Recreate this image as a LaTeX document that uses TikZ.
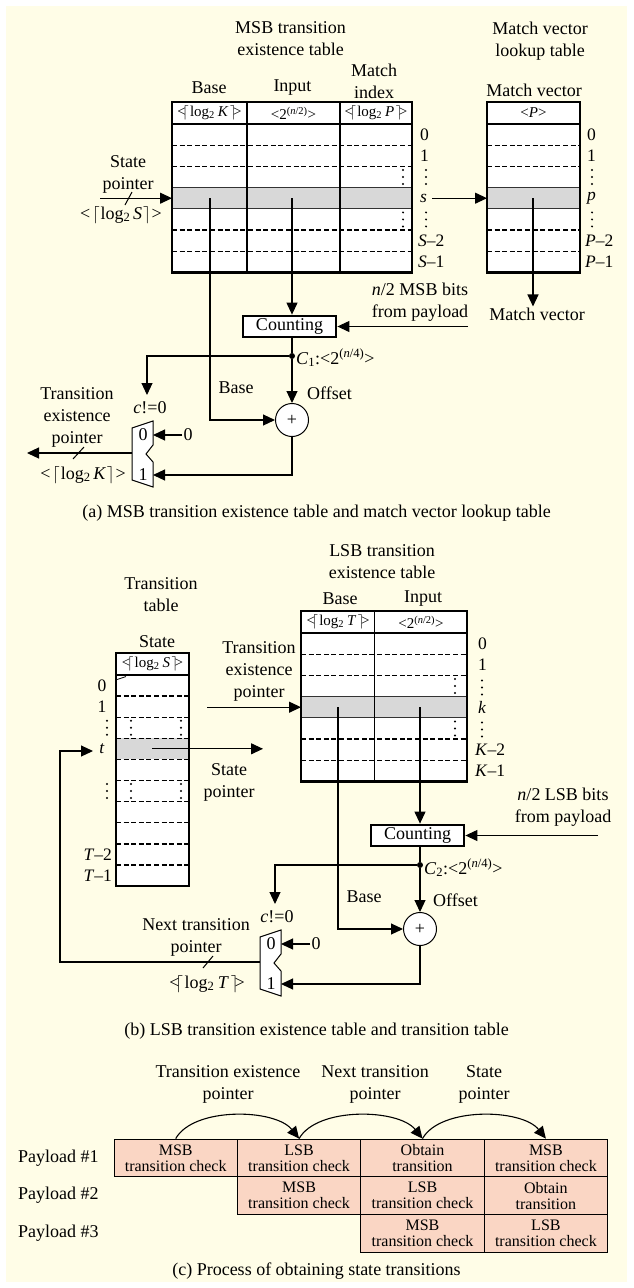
\documentclass[tikz,border=0pt]{standalone}
\usepackage{fontspec}
\setmainfont{Liberation Serif}
\usetikzlibrary{arrows.meta}
\definecolor{bgyellow}{RGB}{255,253,231}
\definecolor{cellgray}{RGB}{216,216,216}
\definecolor{boxpink}{RGB}{250,214,196}
\newcommand\hlog[1]{<\kern-0.22em$\lceil$\kern0.08em log\textsubscript{2}\kern0.2em\textit{#1}\kern0.1em$\rceil$\kern-0.22em>}
\newcommand\slog[1]{<\kern0.1em$\lceil$\kern0.05em log\textsubscript{2}\kern0.15em\textit{#1}\kern0.05em$\rceil$\kern0.05em>}
\newcommand\twopow[1]{<2\textsuperscript{(\textit{n}/#1)}>}
\begin{document}
\begin{tikzpicture}[x=1pt,y=-1pt,
  every node/.style={font=\fontsize{18}{22}\selectfont, inner sep=1pt},
  ml/.style={align=center},
  hdr/.style={font=\fontsize{15}{18}\selectfont, inner sep=0pt},
  rlab/.style={font=\fontsize{17.5}{21}\selectfont, inner sep=0pt},
  arr/.style={line width=1.1pt, -{Triangle[length=12pt,width=11pt]}},
  conn/.style={line width=1.1pt},
  outerframe/.style={line width=2.6pt},
  colline/.style={line width=1.5pt},
  rowdash/.style={line width=1.4pt, dash pattern=on 5pt off 2.6pt},
  rowsolid/.style={line width=1pt, black!80},
  headline/.style={line width=2pt},
  countbox/.style={draw, line width=2.8pt, fill=white, minimum width=93pt, minimum height=21pt, inner sep=0pt},
  plusnode/.style={draw, circle, line width=1pt, fill=white, minimum size=33pt, inner sep=0pt},
  dotnode/.style={circle, fill=black, minimum size=6pt, inner sep=0pt},
  pbox/.style={draw, line width=0.9pt, fill=boxpink, minimum width=123.4pt, minimum height=37.7pt, inner sep=0pt, align=center, font=\fontsize{16}{16}\selectfont},
  tdots/.pic={\foreach \k in {-7,0,7} \fill (0,\k) circle[radius=1.1pt];},
  muxshape/.pic={\draw[line width=1pt, fill=white] (0,7) -- (21,0) -- (21,24) -- (14,33) -- (21,41) -- (21,66) -- (0,59) -- cycle;},
  slash/.style={line width=1pt}
]
\useasboundingbox (0,0) rectangle (633,1288);
\fill[white] (0,0) rectangle (633,1288);
\fill[bgyellow] (6,6) rectangle (627,1282);

%%%%%%%%%%%%%%%% (a) %%%%%%%%%%%%%%%%
\node[ml] (tMSB) at (290.5,39) {MSB transition\\existence table};
\node[ml] (tMV) at (540,41) {Match vector\\lookup table};
\node (hBaseA) at (209,88) {Base};
\node (hInA) at (292.5,88) {Input};
\node[ml] (hMI) at (374,81) {Match\\index};
\node (hMV) at (534,90) {Match vector};

% MSB table
\fill[white] (172,102) rectangle (412,272.4);
\fill[cellgray] (172,187.6) rectangle (412,208.8);
\foreach \yy in {145.2,166.4,230,251.2} \draw[rowdash] (172,\yy) -- (412,\yy);
\foreach \yy in {187.6,208.8} \draw[rowsolid] (172,\yy) -- (412,\yy);
\foreach \xx in {247,340} \draw[colline] (\xx,102) -- (\xx,272.4);
\draw[headline] (172,124) -- (412,124);
\draw[outerframe] (172,102) rectangle (412,272.4);
\node[hdr] (cA1) at (209.5,113) {\hlog{K}};
\node[hdr] (cA2) at (293.5,113) {\twopow{2}};
\node[hdr] (cA3) at (376,113) {\hlog{P}};
\pic at (403,177) {tdots};
\pic at (403,219.4) {tdots};
% row labels
\node[rlab,anchor=west] (rA0) at (420,134.6) {0};
\node[rlab,anchor=west] (rA1) at (420,155.8) {1};
\pic at (426,177) {tdots};
\node[rlab,anchor=west] (rAs) at (420,198.2) {\textit{s}};
\pic at (426,219.4) {tdots};
\node[rlab,anchor=west] (rA2) at (418,240.6) {\textit{S}–2};
\node[rlab,anchor=west] (rA3) at (418,261.8) {\textit{S}–1};

% Match vector table
\fill[white] (487,102) rectangle (580,272.4);
\fill[cellgray] (487,187.6) rectangle (580,208.8);
\foreach \yy in {145.2,166.4,230,251.2} \draw[rowdash] (487,\yy) -- (580,\yy);
\foreach \yy in {187.6,208.8} \draw[rowsolid] (487,\yy) -- (580,\yy);
\draw[headline] (487,124) -- (580,124);
\draw[outerframe] (487,102) rectangle (580,272.4);
\node[hdr] (cMV) at (533.5,113) {<\textit{P}>};
\node[rlab,anchor=west] (rM0) at (587,134.6) {0};
\node[rlab,anchor=west] (rM1) at (587,155.8) {1};
\pic at (592,177) {tdots};
\node[rlab,anchor=west] (rMp) at (587,198.2) {\textit{p}};
\pic at (592,219.4) {tdots};
\node[rlab,anchor=west] (rM2) at (585,240.6) {\textit{P}–2};
\node[rlab,anchor=west] (rM3) at (585,261.8) {\textit{P}–1};

% state pointer in
\node[ml] (lSPa) at (128,174) {State\\pointer};
\coordinate (spSrc) at (100,198.2);
\coordinate (msbIn) at (172,198.2);
\draw[arr] (spSrc) -- (msbIn);
\draw[slash] (125,205) -- (132,192);
\node (wSa) at (121,215) {\slog{S}};

% match vector
\coordinate (mvSrc) at (432,198.2);
\coordinate (mvIn) at (487,198.2);
\draw[arr] (mvSrc) -- (mvIn);
\coordinate (mvC) at (533,198.2);
\node (mvOut) at (537,314) {Match vector};
\draw[arr] (mvC) -- (mvC |- mvOut.north);

% counting
\coordinate (msbBaseC) at (210,198.2);
\coordinate (msbInC) at (292,198.2);
\node[countbox] (cntA) at (289.5,326.5) {Counting};
\draw[arr] (msbInC) -- (msbInC |- cntA.north);
\node[ml] (lMSBbits) at (420,302) {\textit{n}/2 MSB bits\\from payload};
\coordinate (srcA) at (468,326.5);
\draw[arr] (srcA) -- (cntA.east);
\node[dotnode] (dotA) at (292,356) {};
\draw[conn] (cntA.south -| dotA) -- (dotA);
\node[anchor=west] (c1) at (295,358) {\textit{C}\textsubscript{1}:\twopow{4}};
\node[plusnode] (plusA) at (292,420) {+};
\draw[arr] (dotA) -- (plusA);
\node (lOffA) [anchor=west] at (306,393) {Offset};
\node (lBaseA) at (236,388) {Base};
\draw[arr] (msbBaseC) |- (plusA);
\coordinate (selA) at (147,395);
\draw[arr] (dotA) -| (selA);
\node (cneA) at (150,408) {\textit{c}!=0};

% mux (a)
\node (wKa) at (83,475) {\slog{K}};
\pic at (132,421) {muxshape};
\coordinate (muxA0) at (153,435);
\coordinate (muxA1) at (153,475);
\coordinate (muxAout) at (132,453);
\node (m0a) at (143,435) {0};
\node (m1a) at (143,475) {1};
\node (zA) at (188,435) {0};
\draw[arr] (zA) -- (muxA0);
\draw[arr] (plusA) |- (muxA1);
\coordinate (tepA) at (27,453);
\draw[arr] (muxAout) -- (tepA);
\draw[slash] (73,459) -- (84,447);
\node[ml] (lTEPa) at (77,417) {Transition\\existence\\pointer};

\node (capA) at (316.5,513) {(a) MSB transition existence table and match vector lookup table};

%%%%%%%%%%%%%%%% (b) %%%%%%%%%%%%%%%%
\node[ml] (tTT) at (161,594.5) {Transition\\table};
\node[ml] (tLSB) at (382,561.5) {LSB transition\\existence table};
\node (hBaseB) at (340,599) {Base};
\node (hInB) at (423,599) {Input};
\node (hState) at (157,642) {State};

% LSB table
\fill[white] (301,611) rectangle (467,781.4);
\fill[cellgray] (301,696.6) rectangle (467,717.8);
\foreach \yy in {654.2,675.4,739,760.2} \draw[rowdash] (301,\yy) -- (467,\yy);
\foreach \yy in {696.6,717.8} \draw[rowsolid] (301,\yy) -- (467,\yy);
\draw[colline] (374.5,611) -- (374.5,781.4);
\draw[headline] (301,633) -- (467,633);
\draw[outerframe] (301,611) rectangle (467,781.4);
\node[hdr] (cB1) at (338,622) {\hlog{T}};
\node[hdr] (cB2) at (421,622) {\twopow{2}};
\pic at (455,686) {tdots};
\pic at (455,728.4) {tdots};
\node[rlab,anchor=west] (rB0) at (478,643.8) {0};
\node[rlab,anchor=west] (rB1) at (478,665) {1};
\pic at (482,687.5) {tdots};
\node[rlab,anchor=west] (rBk) at (478,707.2) {\textit{k}};
\pic at (482,729.5) {tdots};
\node[rlab,anchor=west] (rB2) at (475,749.6) {\textit{K}–2};
\node[rlab,anchor=west] (rB3) at (475,770.8) {\textit{K}–1};

% Transition table
\fill[white] (116,653) rectangle (189,886);
\fill[cellgray] (116,738.3) rectangle (189,759.4);
\foreach \yy in {696.1,717.2,738.3,759.4,780.5,801.6,822.7,843.8,864.9} \draw[rowdash] (116,\yy) -- (189,\yy);
\draw[headline] (116,675) -- (189,675);
\draw[outerframe] (116,653) rectangle (189,886);
\node[hdr] (cT1) at (152.5,664) {\hlog{S}};
\draw[line width=0.8pt] (117,679.5) -- (126,676.5);
\foreach \yy in {727.7,791} { \pic at (131,\yy) {tdots}; \pic at (181,\yy) {tdots}; }
\node[rlab] (rT0) at (102,685.6) {0};
\node[rlab] (rT1) at (102,706.7) {1};
\pic at (107,727.7) {tdots};
\node[rlab] (rTt) at (102,748.8) {\textit{t}};
\pic at (107,791) {tdots};
\node[rlab,anchor=east] (rT2) at (112,854.3) {\textit{T}–2};
\node[rlab,anchor=east] (rT3) at (112,875.4) {\textit{T}–1};

% pointers
\node[ml] (lTEPb) at (259,671) {Transition\\existence\\pointer};
\coordinate (tepSrc) at (207,707.2);
\coordinate (lsbIn) at (301,707.2);
\draw[arr] (tepSrc) -- (lsbIn);
\coordinate (ttC) at (152,748.8);
\coordinate (spDst) at (263,748.8);
\draw[arr] (ttC) -- (spDst);
\node[ml] (lSPb) at (229,782) {State\\pointer};

% counting (b)
\coordinate (lsbBaseC) at (338,707.2);
\coordinate (lsbInC) at (420,707.2);
\node[countbox] (cntB) at (417.5,835.5) {Counting};
\draw[arr] (lsbInC) -- (lsbInC |- cntB.north);
\node[ml] (lLSBbits) at (563,807.5) {\textit{n}/2 LSB bits\\from payload};
\coordinate (srcB) at (598,835.5);
\draw[arr] (srcB) -- (cntB.east);
\node[dotnode] (dotB) at (420,865) {};
\draw[conn] (cntB.south -| dotB) -- (dotB);
\node[anchor=west] (c2) at (423,868) {\textit{C}\textsubscript{2}:\twopow{4}};
\node[plusnode] (plusB) at (420,929) {+};
\draw[arr] (dotB) -- (plusB);
\node (lOffB) [anchor=west] at (432,900) {Offset};
\node (lBaseB) at (364,897) {Base};
\draw[arr] (lsbBaseC) |- (plusB);
\coordinate (selB) at (275,904);
\draw[arr] (dotB) -| (selB);
\node (cneB) at (277,917) {\textit{c}!=0};

% mux (b)
\node (wTb) at (207,984) {\hlog{T}};
\pic at (260,930) {muxshape};
\coordinate (muxB0) at (281,944);
\coordinate (muxB1) at (281,984);
\coordinate (muxBout) at (260,962);
\node (m0b) at (271,944) {0};
\node (m1b) at (271,984) {1};
\node (zB) at (316,944) {0};
\draw[arr] (zB) -- (muxB0);
\draw[arr] (plusB) |- (muxB1);
\coordinate (loopX) at (60,751);
\coordinate (tIn) at (93,751);
\draw[arr] (muxBout) -| (loopX) -- (tIn);
\draw[slash] (203,968) -- (213,956);
\node[ml] (lNTP) at (196,937) {Next transition\\pointer};

\node (capB) at (316.5,1031) {(b) LSB transition existence table and transition table};

%%%%%%%%%%%%%%%% (c) %%%%%%%%%%%%%%%%
\node[ml] (lc1) at (228,1084) {Transition existence\\pointer};
\node[ml] (lc2) at (375,1084) {Next transition\\pointer};
\node[ml] (lc3) at (484,1084) {State\\pointer};

\node[pbox] (p11) at (175.7,1157.9) {MSB\\transition check};
\node[pbox] (p12) at (299.1,1157.9) {LSB\\transition check};
\node[pbox] (p13) at (422.5,1157.9) {Obtain\\transition};
\node[pbox] (p14) at (545.9,1157.9) {MSB\\transition check};
\node[pbox] (p22) at (299.1,1195.6) {MSB\\transition check};
\node[pbox] (p23) at (422.5,1195.6) {LSB\\transition check};
\node[pbox] (p24) at (545.9,1195.6) {Obtain\\transition};
\node[pbox] (p33) at (422.5,1233.3) {MSB\\transition check};
\node[pbox] (p34) at (545.9,1233.3) {LSB\\transition check};

\node[anchor=west] (pl1) at (17,1157.9) {Payload \#1};
\node[anchor=west] (pl2) at (17,1195.6) {Payload \#2};
\node[anchor=west] (pl3) at (17,1233.3) {Payload \#3};

\draw[arr] (p11.north) .. controls +(18,-32) and +(-24,-30) .. (p12.north);
\draw[arr] (p12.north) .. controls +(18,-32) and +(-24,-30) .. (p13.north);
\draw[arr] (p13.north) .. controls +(18,-32) and +(-24,-30) .. (p14.north);

\node (capC) at (316.5,1271) {(c) Process of obtaining state transitions};
\end{tikzpicture}
\end{document}
